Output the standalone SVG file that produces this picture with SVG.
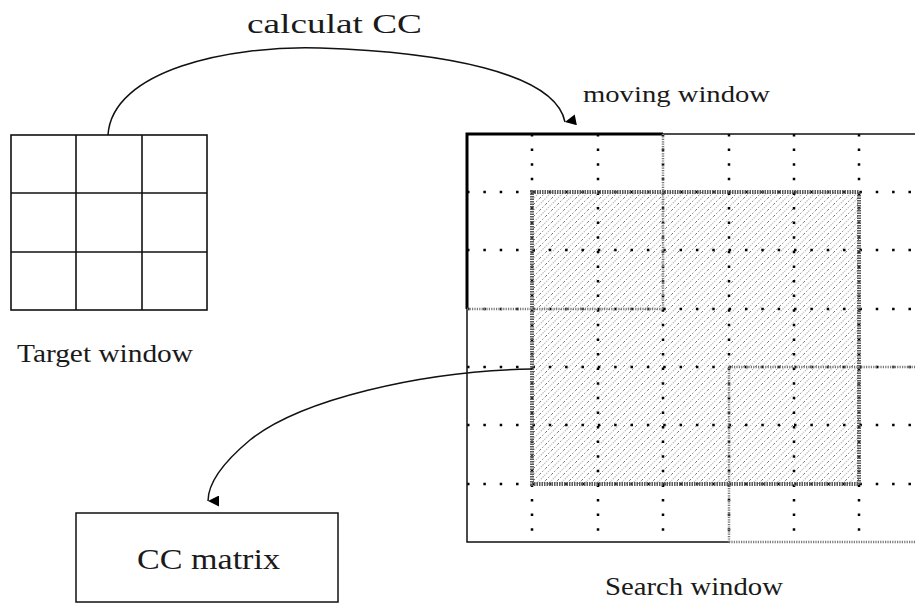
<svg xmlns="http://www.w3.org/2000/svg" width="915" height="603" viewBox="0 0 915 603">
<style>
.txt{font-family:"Liberation Serif","DejaVu Serif",serif;fill:#1a1a1a}
.cell{fill:none;stroke:#111;stroke-width:1.6}
.conn{fill:none;stroke:#111;stroke-width:1.5}
.vdot{stroke:#000;stroke-width:2.5;stroke-dasharray:2.5 12.1}
.hdot{stroke:#000;stroke-width:2.5;stroke-dasharray:2.5 13.85}
.gline{stroke:#7a7a7a;stroke-width:2.5;stroke-dasharray:1.2 1.2;fill:none}
</style>
<defs>
<marker id="arr" viewBox="0 0 10 10" refX="5" refY="10" markerWidth="11" markerHeight="12" markerUnits="userSpaceOnUse" orient="auto-start-reverse">
<path d="M0,0 L10,0 L5,10 Z" fill="#000"/>
</marker>
<pattern id="hatch" patternUnits="userSpaceOnUse" width="12" height="12">
<path d="M-1,13 L13,-1 M-1,1 L1,-1 M11,13 L13,11" stroke="#bdbdbd" stroke-width="1.2" stroke-dasharray="1.5 1"/>
<path d="M0,6 L6,0 M6,12 L12,6" stroke="#555" stroke-width="1" stroke-dasharray="1.2 2.2"/>
</pattern>
</defs>

<g id="target-window">
<rect class="cell" x="11" y="135" width="196" height="175"/>
<line class="cell" x1="76" y1="135" x2="76" y2="310"/>
<line class="cell" x1="142" y1="135" x2="142" y2="310"/>
<line class="cell" x1="11" y1="193" x2="207" y2="193"/>
<line class="cell" x1="11" y1="252" x2="207" y2="252"/>
<text class="txt" x="17" y="362" font-size="25" textLength="176" lengthAdjust="spacingAndGlyphs">Target window</text>
</g>

<g id="search-window">
<rect x="532" y="192" width="327" height="292" fill="url(#hatch)"/>
<g id="grid-dots">
<line class="vdot" x1="532" y1="134" x2="532" y2="542"/>
<line class="vdot" x1="598" y1="134" x2="598" y2="542"/>
<line class="vdot" x1="663" y1="134" x2="663" y2="542"/>
<line class="vdot" x1="729" y1="134" x2="729" y2="542"/>
<line class="vdot" x1="794" y1="134" x2="794" y2="542"/>
<line class="vdot" x1="859" y1="134" x2="859" y2="542"/>
<line class="hdot" x1="467" y1="192" x2="915" y2="192"/>
<line class="hdot" x1="467" y1="250" x2="915" y2="250"/>
<line class="hdot" x1="467" y1="309" x2="915" y2="309"/>
<line class="hdot" x1="467" y1="367" x2="915" y2="367"/>
<line class="hdot" x1="467" y1="425" x2="915" y2="425"/>
<line class="hdot" x1="467" y1="484" x2="915" y2="484"/>
</g>
<rect x="532" y="192" width="327" height="292" fill="none" stroke="#5a5a5a" stroke-width="4" stroke-dasharray="1.5 1"/>
<path d="M467,309 L467,542 L729,542" fill="none" stroke="#111" stroke-width="1.5"/>
<line x1="663" y1="134" x2="915" y2="134" stroke="#111" stroke-width="1.3"/>
<text class="txt" x="605" y="595" font-size="25" textLength="178" lengthAdjust="spacingAndGlyphs">Search window</text>
</g>

<g id="moving-window">
<path d="M467,309 L467,134 L663,134" fill="none" stroke="#000" stroke-width="3"/>
<path class="gline" d="M663,134 L663,309 L467,309"/>
<text class="txt" x="583" y="102" font-size="23" textLength="187" lengthAdjust="spacingAndGlyphs">moving window</text>
</g>

<g id="moving-window-2">
<path class="gline" d="M729,542 L729,367 L915,367"/>
<path class="gline" d="M729,542 L915,542"/>
</g>

<g id="cc-matrix">
<rect x="76" y="513" width="262" height="89" fill="none" stroke="#111" stroke-width="1.5"/>
<text class="txt" x="137" y="569" font-size="30" textLength="143" lengthAdjust="spacingAndGlyphs">CC matrix</text>
</g>

<g id="connectors">
<path class="conn" d="M108,135 C112,70 230,45 320,48 C440,52 555,72 565,122" marker-end="url(#arr)"/>
<path class="conn" d="M532,369 C420,371 300,400 250,440 C220,465 208,485 208,501" marker-end="url(#arr)"/>
<text class="txt" x="247" y="33" font-size="27" textLength="175" lengthAdjust="spacingAndGlyphs">calculat CC</text>
</g>
</svg>
